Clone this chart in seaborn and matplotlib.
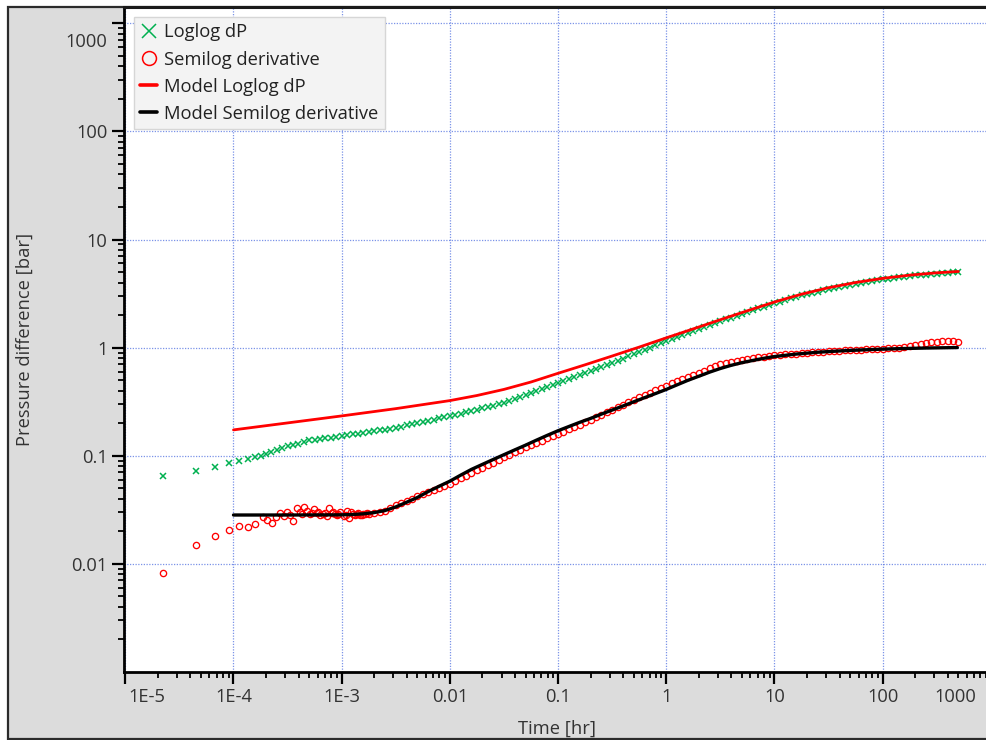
import numpy as np
import pandas as pd
import matplotlib
matplotlib.use("Agg")
import matplotlib.pyplot as plt
import seaborn as sns
from matplotlib.lines import Line2D
from matplotlib.patches import Rectangle
from matplotlib import transforms as mtrans
from matplotlib.ticker import LogLocator, FixedLocator, FixedFormatter, NullFormatter

sns.set_theme(style="white")
plt.rcParams['font.family'] = ['Open Sans', 'DejaVu Sans']

# ---------------- data ----------------
# early, linearly spaced samples [hr]
T_EARLY = [2.25e-5, 4.5e-5, 6.75e-5, 9.0e-5, 1.125e-4, 1.35e-4, 1.575e-4, 1.8e-4]
LOGLOG_EARLY = [0.0645, 0.0726, 0.079, 0.085, 0.0899, 0.0938, 0.0967, 0.100]

# dense time samples [hr]
TIME_DENSE = [
    2.00e-4, 2.24e-4, 2.51e-4, 2.82e-4, 3.16e-4, 3.55e-4, 3.98e-4, 4.47e-4, 5.01e-4, 5.62e-4,
    6.31e-4, 7.08e-4, 7.94e-4, 8.91e-4,
    1.00e-3, 1.12e-3, 1.26e-3, 1.41e-3, 1.58e-3, 1.78e-3, 2.00e-3, 2.24e-3, 2.51e-3, 2.82e-3,
    3.16e-3, 3.55e-3, 3.98e-3, 4.47e-3, 5.01e-3, 5.62e-3, 6.31e-3, 7.08e-3, 7.94e-3, 8.91e-3,
    1.00e-2, 1.12e-2, 1.26e-2, 1.41e-2, 1.58e-2, 1.78e-2, 2.00e-2, 2.24e-2, 2.51e-2, 2.82e-2,
    3.16e-2, 3.55e-2, 3.98e-2, 4.47e-2, 5.01e-2, 5.62e-2, 6.31e-2, 7.08e-2, 7.94e-2, 8.91e-2,
    0.100, 0.112, 0.126, 0.141, 0.158, 0.178, 0.200, 0.224, 0.251, 0.282,
    0.316, 0.355, 0.398, 0.447, 0.501, 0.562, 0.631, 0.708, 0.794, 0.891,
    1.00, 1.12, 1.26, 1.41, 1.58, 1.78, 2.00, 2.24, 2.51, 2.82,
    3.16, 3.55, 3.98, 4.47, 5.01, 5.62, 6.31, 7.08, 7.94, 8.91,
    10.0, 11.2, 12.6, 14.1, 15.8, 17.8, 20.0, 22.4, 25.1, 28.2,
    31.6, 35.5, 39.8, 44.7, 50.1, 56.2, 63.1, 70.8, 79.4, 89.1,
    100.0, 112.0, 126.0, 141.0, 158.0, 178.0, 200.0, 224.0, 251.0, 282.0,
    316.0, 355.0, 398.0, 447.0, 501.0,
]

LOGLOG_DENSE = [
    0.104, 0.108, 0.112, 0.117, 0.122, 0.125, 0.129, 0.134, 0.138, 0.140,
    0.143, 0.145, 0.147, 0.150,
    0.152, 0.155, 0.157, 0.160, 0.163, 0.165, 0.168, 0.171, 0.174, 0.177,
    0.181, 0.185, 0.190, 0.195, 0.200, 0.205, 0.210, 0.215, 0.221, 0.226,
    0.232, 0.239, 0.245, 0.252, 0.259, 0.266, 0.274, 0.282, 0.290, 0.299,
    0.308, 0.319, 0.332, 0.346, 0.361, 0.377, 0.394, 0.412, 0.431, 0.450,
    0.470, 0.490, 0.512, 0.534, 0.557, 0.581, 0.607, 0.633, 0.661, 0.689,
    0.719, 0.754, 0.790, 0.828, 0.867, 0.909, 0.952, 0.998, 1.046, 1.096,
    1.148, 1.201, 1.255, 1.311, 1.370, 1.430, 1.489, 1.550, 1.614, 1.681,
    1.750, 1.820, 1.893, 1.969, 2.048, 2.130, 2.213, 2.300, 2.389, 2.483,
    2.580, 2.666, 2.755, 2.847, 2.942, 3.040, 3.125, 3.212, 3.302, 3.394,
    3.490, 3.568, 3.648, 3.731, 3.814, 3.900, 3.972, 4.045, 4.119, 4.194,
    4.270, 4.334, 4.399, 4.465, 4.532, 4.600, 4.647, 4.694, 4.742, 4.791,
    4.840, 4.880, 4.920, 4.960, 5.000,
]

# semilog derivative: scattered early samples
T_DERIV_EARLY = [
    2.25e-5, 4.5e-5, 6.75e-5, 9.0e-5, 1.125e-4, 1.35e-4, 1.575e-4, 1.86e-4, 2.03e-4, 2.26e-4,
    2.47e-4, 2.69e-4, 2.94e-4, 3.14e-4, 3.35e-4, 3.57e-4, 3.84e-4, 4.12e-4, 4.33e-4, 4.51e-4,
    4.75e-4, 5.10e-4, 5.30e-4, 5.55e-4, 5.87e-4, 6.00e-4, 6.30e-4, 6.76e-4, 7.00e-4, 7.26e-4,
    7.63e-4, 8.09e-4, 8.40e-4, 8.67e-4, 9.00e-4, 9.31e-4, 9.70e-4, 1.04e-3, 1.10e-3, 1.13e-3,
    1.18e-3, 1.23e-3, 1.28e-3, 1.33e-3, 1.38e-3, 1.43e-3, 1.48e-3, 1.53e-3, 1.58e-3, 1.64e-3,
    1.70e-3,
]
DERIV_EARLY = [
    0.0082, 0.0148, 0.0181, 0.0207, 0.0225, 0.0219, 0.0233, 0.0269, 0.0254, 0.0240,
    0.0269, 0.0293, 0.0277, 0.0301, 0.0285, 0.0247, 0.0328, 0.0301, 0.0290, 0.0333,
    0.0310, 0.0289, 0.0297, 0.0323, 0.0293, 0.0300, 0.0281, 0.0289, 0.0296, 0.0277,
    0.0328, 0.0293, 0.0298, 0.0289, 0.0281, 0.0289, 0.0300, 0.0277, 0.0284, 0.0310,
    0.0265, 0.0299, 0.0289, 0.0282, 0.0289, 0.0294, 0.0281, 0.0285, 0.0289, 0.0286,
    0.0293,
]
# semilog derivative on the dense samples TIME_DENSE[19:]
DERIV_DENSE = [
    0.0290, 0.0297, 0.0303, 0.0310, 0.0330, 0.0350, 0.0365, 0.0380, 0.0400, 0.0420,
    0.0440, 0.0460, 0.0480, 0.0503, 0.0526, 0.0550, 0.0582, 0.0616, 0.0652, 0.0689,
    0.0729, 0.0770, 0.0815, 0.0861, 0.0910, 0.0961, 0.1016, 0.1074, 0.1135, 0.120,
    0.1256, 0.1315, 0.1377, 0.1442, 0.151, 0.158, 0.1664, 0.175, 0.184, 0.194,
    0.204, 0.215, 0.2265, 0.2388, 0.252, 0.2655, 0.2805, 0.2965, 0.313, 0.330,
    0.347, 0.365, 0.383, 0.403, 0.423, 0.445, 0.465, 0.487, 0.510, 0.534,
    0.559, 0.585, 0.612, 0.641, 0.671, 0.700, 0.718, 0.736, 0.752, 0.768,
    0.782, 0.796, 0.810, 0.823, 0.835, 0.847, 0.856, 0.865, 0.873, 0.881,
    0.888, 0.895, 0.902, 0.909, 0.916, 0.922, 0.928, 0.934, 0.940, 0.946,
    0.951, 0.956, 0.961, 0.966, 0.971, 0.977, 0.983, 0.990, 0.998, 1.010,
    1.025, 1.045, 1.070, 1.095, 1.118, 1.135, 1.148, 1.150, 1.142, 1.125,
]
DENSE_DERIV_START = 19

# model loglog dP
T_MODEL_DP = [1.00e-4, 3.16e-4, 1.00e-3, 3.16e-3, 1.00e-2, 1.78e-2, 3.16e-2, 5.62e-2,
              0.100, 0.178, 0.316, 0.562, 1.00, 1.78, 3.16, 5.62, 10.0, 17.8, 31.6, 56.2,
              100.0, 178.0, 316.0, 501.0]
MODEL_DP = [0.173, 0.2007, 0.233, 0.272, 0.323, 0.360, 0.410, 0.480,
            0.578, 0.693, 0.835, 1.010, 1.23, 1.49, 1.81, 2.19, 2.64, 3.12, 3.58, 4.00,
            4.37, 4.68, 4.92, 5.06]

# model semilog derivative
T_MODEL_DER = [1.00e-4, 3.16e-4, 1.00e-3, 1.26e-3, 1.58e-3, 2.00e-3, 2.51e-3, 3.16e-3, 3.98e-3,
               5.01e-3, 6.31e-3, 7.94e-3, 1.00e-2, 1.26e-2, 1.58e-2, 2.00e-2, 2.51e-2, 3.16e-2,
               3.98e-2, 5.01e-2, 6.31e-2, 7.94e-2, 0.100, 0.126, 0.158, 0.200, 0.251, 0.316,
               0.398, 0.501, 0.631, 0.794, 1.00, 1.26, 1.58, 2.00, 2.51, 3.16, 3.98, 5.01,
               6.31, 7.94, 10.0, 15.8, 25.1, 39.8, 63.1, 100.0, 158.0, 251.0, 398.0, 490.0]
MODEL_DER = [0.0282, 0.0282, 0.0283, 0.0285, 0.0289, 0.0297, 0.0310, 0.0335, 0.0370,
             0.0410, 0.0465, 0.0520, 0.0580, 0.0660, 0.0745, 0.0830, 0.0920, 0.102,
             0.113, 0.125, 0.139, 0.154, 0.170, 0.186, 0.203, 0.221, 0.242, 0.264,
             0.288, 0.315, 0.344, 0.375, 0.410, 0.452, 0.497, 0.543, 0.592, 0.640, 0.685, 0.725,
             0.760, 0.795, 0.826, 0.870, 0.905, 0.930, 0.950, 0.967, 0.980, 0.990, 0.997, 1.0]

X_TICKS = [1e-5, 1e-4, 1e-3, 1e-2, 1e-1, 1, 10, 100]
X_TICK_LABELS = ['', '1E-4', '1E-3', '0.01', '0.1', '1', '10', '100']
Y_TICKS = [1e-2, 1e-1, 1, 10, 100, 1000]
Y_TICK_LABELS = ['0.01', '0.1', '1', '10', '100', '']

SERIES_NAMES = ['Loglog dP', 'Semilog derivative', 'Model Loglog dP', 'Model Semilog derivative']

# ---------------- figure ----------------
W, H = 986, 740
FS = 13.2
fig = plt.figure(figsize=(W / 100, H / 100), dpi=100)
fig.patch.set_facecolor('white')
fig.patches.append(Rectangle((8 / W, 1 - 739 / H), (995 - 8) / W, (739 - 7) / H,
                             transform=fig.transFigure, facecolor='#dcdcdc',
                             edgecolor='#2b2b2b', lw=1.6, zorder=-5))

ax_left, ax_right, ax_top, ax_bottom = 124, 990, 7, 671.7
ax = fig.add_axes([ax_left / W, 1 - ax_bottom / H, (ax_right - ax_left) / W, (ax_bottom - ax_top) / H])
ax.set_zorder(1)
ax.set_facecolor('white')
ax.set_xscale('log')
ax.set_yscale('log')

GREEN = '#00b050'
RED = '#ff0000'

df_dp = pd.DataFrame({'t': T_EARLY + TIME_DENSE, 'v': LOGLOG_EARLY + LOGLOG_DENSE})
df_der = pd.DataFrame({'t': T_DERIV_EARLY + TIME_DENSE[DENSE_DERIV_START:], 'v': DERIV_EARLY + DERIV_DENSE})
df_mdp = pd.DataFrame({'t': T_MODEL_DP, 'v': MODEL_DP})
df_mder = pd.DataFrame({'t': T_MODEL_DER, 'v': MODEL_DER})

sns.lineplot(data=df_dp, x='t', y='v', ax=ax, estimator=None, sort=False, linestyle='',
             marker='x', markersize=4.0, markeredgewidth=1.1, color=GREEN,
             markeredgecolor=GREEN, legend=False, zorder=3)
sns.lineplot(data=df_der, x='t', y='v', ax=ax, estimator=None, sort=False, linestyle='',
             marker='o', markersize=4.5, markeredgewidth=0.95, color=RED,
             markeredgecolor=RED, markerfacecolor='none', legend=False, zorder=4)
sns.lineplot(data=df_mdp, x='t', y='v', ax=ax, estimator=None, sort=False,
             color=RED, linewidth=2.0, legend=False, zorder=5)
sns.lineplot(data=df_mder, x='t', y='v', ax=ax, estimator=None, sort=False,
             color='black', linewidth=2.4, legend=False, zorder=6)

ax.set_xlim(10 ** -5.012, 10 ** 2.992)
ax.set_ylim(1e-3, 1419)

ax.xaxis.set_major_locator(FixedLocator(X_TICKS))
ax.xaxis.set_major_formatter(FixedFormatter(X_TICK_LABELS))
ax.yaxis.set_major_locator(FixedLocator(Y_TICKS))
ax.yaxis.set_major_formatter(FixedFormatter(Y_TICK_LABELS))
ax.xaxis.set_minor_locator(LogLocator(base=10, subs=np.arange(2, 10), numticks=50))
ax.yaxis.set_minor_locator(LogLocator(base=10, subs=np.arange(2, 10), numticks=50))
ax.xaxis.set_minor_formatter(NullFormatter())
ax.yaxis.set_minor_formatter(NullFormatter())

TXT = '#333333'
TL, PAD = 8.3, 3.5
ax.tick_params(axis='both', which='major', direction='out', length=TL, width=1.6,
               color='black', labelsize=FS, labelcolor=TXT, pad=PAD,
               bottom=True, left=True)
ax.tick_params(axis='both', which='minor', direction='out', length=4.3, width=1.3,
               color='black', bottom=True, left=True)

ax.grid(True, which='major', color='#4f6fe0', linestyle=(0, (1, 1.2)), linewidth=0.9, alpha=0.75)
ax.set_axisbelow(True)

for s in ['left', 'bottom']:
    ax.spines[s].set_color('black')
    ax.spines[s].set_linewidth(2.0)
ax.spines['top'].set_color('#1a1a1a')
ax.spines['top'].set_linewidth(2.2)
ax.spines['right'].set_visible(False)

# end labels shifted to stay inside the plot extent (as in the reference)
ytr = mtrans.offset_copy(ax.get_yaxis_transform(), fig=fig, x=-(TL + PAD), units='points')
ax.text(0, 10 ** 2.85, '1000', transform=ytr, ha='right', va='center_baseline',
        fontsize=FS, color=TXT, clip_on=False)
xtr = mtrans.offset_copy(ax.get_xaxis_transform(), fig=fig, y=-(TL + PAD), units='points')
ax.text(10 ** 2.668, 0, '1000', transform=xtr, ha='center', va='top',
        fontsize=FS, color=TXT, clip_on=False)
xtr0 = mtrans.offset_copy(ax.get_xaxis_transform(), fig=fig, x=2.5, y=-(TL + PAD), units='points')
ax.text(1e-5, 0, '1E-5', transform=xtr0, ha='left', va='top',
        fontsize=FS, color=TXT, clip_on=False)

ax.set_xlabel('Time [hr]', fontsize=FS, color=TXT, labelpad=10)
ax.set_ylabel('Pressure difference [bar]', fontsize=FS, color=TXT, labelpad=27)

handles = [
    Line2D([], [], linestyle='', marker='x', color=GREEN, markersize=10, markeredgewidth=1.1),
    Line2D([], [], linestyle='', marker='o', markerfacecolor='none', markeredgecolor=RED,
           markersize=10, markeredgewidth=1.1),
    Line2D([], [], color=RED, linewidth=2.6),
    Line2D([], [], color='black', linewidth=2.6),
]
leg = ax.legend(handles, SERIES_NAMES, loc='upper left', bbox_to_anchor=(0.0115, 0.985),
                borderaxespad=0, frameon=True, fancybox=False, framealpha=1,
                facecolor='#f3f3f3', edgecolor='#d6d6d6', fontsize=FS,
                handlelength=0.9, handletextpad=0.4, borderpad=0.35, labelspacing=0.5)
leg.get_frame().set_linewidth(1.0)
for t in leg.get_texts():
    t.set_color('#222222')

fig.savefig('out.png', dpi=100)
